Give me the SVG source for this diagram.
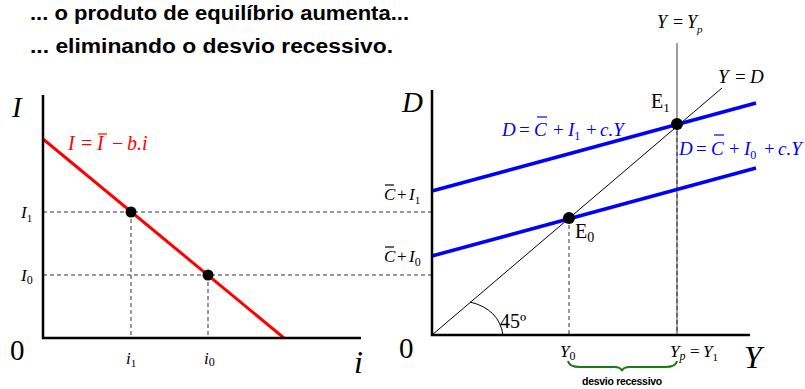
<svg xmlns="http://www.w3.org/2000/svg" width="805" height="389" viewBox="0 0 805 389">
<style>
.t{font-family:"Liberation Serif",serif;font-style:italic;fill:#000}
.n{font-family:"Liberation Serif",serif;fill:#000}
.title{font-family:"Liberation Sans",Arial,sans-serif;font-weight:bold;font-size:20px;fill:#000}
.axis{stroke:#000;stroke-width:2.5;fill:none}
.dash{stroke:#333;stroke-width:1;stroke-dasharray:4 3;fill:none}
.red{stroke:#ff0000;stroke-width:3;fill:none}
.blue{stroke:#0000ff;stroke-width:3.5;fill:none}
.thin{stroke:#000;stroke-width:1;fill:none}
.bar{stroke-width:1.2}
.dot{fill:#000}
</style>
<rect width="805" height="389" fill="#fff"/>
<g id="titles">
<text class="title" x="30" y="20" textLength="379" lengthAdjust="spacingAndGlyphs">... o produto de equilíbrio aumenta...</text>
<text class="title" x="30" y="53" textLength="363" lengthAdjust="spacingAndGlyphs">... eliminando o desvio recessivo.</text>
</g>
<g id="connectors">
<line class="dash" x1="43" y1="212" x2="432" y2="212"/>
<line class="dash" x1="43" y1="275" x2="432" y2="275"/>
<line class="dash" x1="131" y1="212" x2="131" y2="338"/>
<line class="dash" x1="208" y1="275" x2="208" y2="338"/>
<line class="thin" x1="432" y1="335" x2="722" y2="88"/>
<path class="thin" d="M470,302 Q499,309 503,335"/>
<line x1="677" y1="43" x2="677" y2="335" stroke="#888" stroke-width="1.6"/>
<line class="dash" x1="677" y1="124" x2="677" y2="335"/>
<line class="dash" x1="569" y1="218" x2="569" y2="335"/>
<line class="red" x1="43" y1="139" x2="284" y2="338"/>
<line class="blue" x1="432" y1="191" x2="756" y2="103"/>
<line class="blue" x1="432" y1="256" x2="756" y2="168"/>
<path d="M568,361 Q569,367 580,367 L614,367 Q621,367 622,371 Q623,367 630,367 L665,367 Q676,367 677,361" fill="none" stroke="#1a7a1a" stroke-width="2"/>
</g>
<g id="left-axes">
<polyline class="axis" points="43,95 43,338 361,338"/>
<text class="t" x="12" y="117" font-size="29">I</text>
<text class="n" x="10" y="360" font-size="29">0</text>
<text class="t" x="354" y="373" font-size="32">i</text>
<text class="t" x="21" y="218" font-size="17">I<tspan font-size="11" font-style="normal" dy="4">1</tspan></text>
<text class="t" x="21" y="281" font-size="17">I<tspan font-size="12" font-style="normal" dy="3">0</tspan></text>
<text class="t" x="126" y="364" font-size="17">i<tspan font-size="11" font-style="normal" dy="3">1</tspan></text>
<text class="t" x="204" y="364" font-size="17">i<tspan font-size="12" font-style="normal" dy="2">0</tspan></text>
</g>
<g id="investment-curve">
<text class="t" x="68" y="150" font-size="20" style="fill:#ff0000">I<tspan font-style="normal" x="81">=</tspan><tspan x="97">I</tspan><tspan font-style="normal" x="112">−</tspan><tspan x="127">b.i</tspan></text>
<line class="bar" x1="98" y1="134" x2="107" y2="134" stroke="#ff0000"/>
</g>
<g id="point-I1"><circle class="dot" cx="131" cy="212" r="5.5"/></g>
<g id="point-I0"><circle class="dot" cx="208" cy="275" r="5.5"/></g>
<g id="right-axes">
<polyline class="axis" points="432,90 432,335 750,335"/>
<text class="t" x="402" y="112" font-size="29">D</text>
<text class="n" x="399" y="358" font-size="29">0</text>
<text class="t" x="744" y="368" font-size="32">Y</text>
<text class="n" x="500" y="328" font-size="20">45º</text>
<text class="t" x="560" y="357" font-size="17">Y<tspan font-size="12" font-style="normal" dy="3">0</tspan></text>
<text class="t" x="670" y="357" font-size="17">Y<tspan font-size="12" dy="3">p</tspan><tspan font-style="normal" dy="-3" x="690">=</tspan><tspan x="703">Y</tspan><tspan font-size="11" font-style="normal" dy="4">1</tspan></text>
<text font-family="Liberation Sans,Arial,sans-serif" font-weight="bold" font-size="10.5" x="622" y="385" text-anchor="middle" letter-spacing="-0.3">desvio recessivo</text>
</g>
<g id="label-CI1">
<text class="t" x="384" y="200" font-size="17">C<tspan font-style="normal" x="397">+</tspan><tspan x="409">I</tspan><tspan font-size="11" font-style="normal" dy="4">1</tspan></text>
<line class="bar" x1="385" y1="185" x2="394" y2="185" stroke="#000"/>
</g>
<g id="label-CI0">
<text class="t" x="384" y="262" font-size="17">C<tspan font-style="normal" x="397">+</tspan><tspan x="409">I</tspan><tspan font-size="12" font-style="normal" dy="4">0</tspan></text>
<line class="bar" x1="385" y1="247" x2="394" y2="247" stroke="#000"/>
</g>
<g id="line-Yp">
<text class="t" x="657" y="28" font-size="18">Y<tspan font-style="normal" x="673">=</tspan><tspan x="687">Y</tspan><tspan font-size="11" dy="5">p</tspan></text>
</g>
<g id="line-45">
<text class="t" x="718" y="83" font-size="19">Y<tspan font-style="normal" x="735">=</tspan><tspan x="750">D</tspan></text>
</g>
<g id="demand-I1">
<text class="t" x="502" y="136" font-size="19" style="fill:#0000ff">D<tspan font-style="normal" x="519">=</tspan><tspan x="534">C</tspan><tspan font-style="normal" x="553">+</tspan><tspan x="568">I</tspan><tspan font-size="12" font-style="normal" dy="4">1</tspan><tspan font-style="normal" x="586" dy="-4">+</tspan><tspan x="600">c.Y</tspan></text>
<line class="bar" x1="537" y1="117" x2="547" y2="117" stroke="#0000ff"/>
</g>
<g id="demand-I0">
<text class="t" x="679" y="155" font-size="19" style="fill:#0000ff">D<tspan font-style="normal" x="696">=</tspan><tspan x="711">C</tspan><tspan font-style="normal" x="729">+</tspan><tspan x="744">I</tspan><tspan font-size="12" font-style="normal" dy="4">0</tspan><tspan font-style="normal" x="764" dy="-4">+</tspan><tspan x="778">c.Y</tspan></text>
<line class="bar" x1="714" y1="135" x2="724" y2="135" stroke="#0000ff"/>
</g>
<g id="E1">
<circle class="dot" cx="677" cy="124" r="6"/>
<text class="n" x="651" y="108" font-size="20">E<tspan font-size="13" dy="4">1</tspan></text>
</g>
<g id="E0">
<circle class="dot" cx="569" cy="218" r="6"/>
<text class="n" x="575" y="238" font-size="20">E<tspan font-size="14" dy="4">0</tspan></text>
</g>
</svg>
